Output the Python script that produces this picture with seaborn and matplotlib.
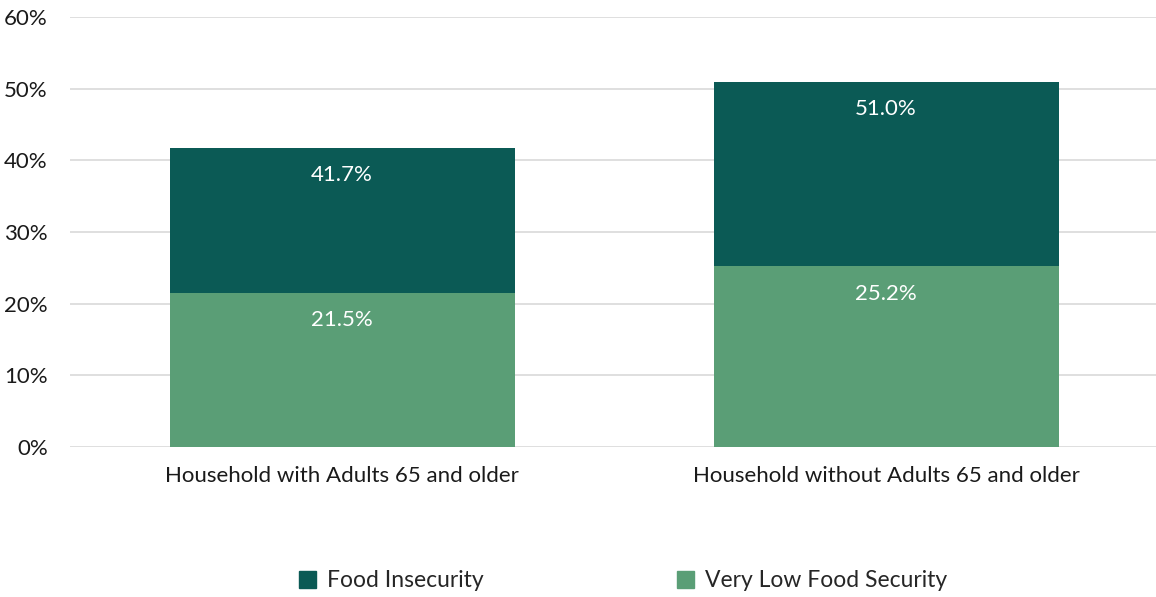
import pandas as pd
import matplotlib.pyplot as plt
import seaborn as sns
from matplotlib.patches import Patch

categories = ["Household with Adults 65 and older", "Household without Adults 65 and older"]
food_insecurity = [41.7, 51.0]
very_low_food_security = [21.5, 25.2]
series_names = ["Food Insecurity", "Very Low Food Security"]
series_colors = ["#0b5a55", "#5a9e76"]

sns.set_theme(style="whitegrid")
plt.rcParams["font.family"] = ["Lato", "DejaVu Sans"]

fig = plt.figure(figsize=(11.56, 5.97), dpi=100)
ax = fig.add_axes([0.0606, 0.2513, 0.9412, 0.7202])

df = pd.DataFrame({"category": categories, "fi": food_insecurity, "vlfs": very_low_food_security})

# overlapping bars: total food insecurity behind, very low food security in front
sns.barplot(data=df, x="category", y="fi", color=series_colors[0], width=0.634,
            saturation=1, linewidth=0, ax=ax, zorder=2)
sns.barplot(data=df, x="category", y="vlfs", color=series_colors[1], width=0.634,
            saturation=1, linewidth=0, ax=ax, zorder=3)

for i, (fi, vl) in enumerate(zip(food_insecurity, very_low_food_security)):
    ax.text(i, fi - 2.4, f"{fi:.1f}%", ha="center", va="top", color="white", fontsize=16, zorder=4)
    ax.text(i, vl - 2.4, f"{vl:.1f}%", ha="center", va="top", color="white", fontsize=16, zorder=4)

ax.set_ylim(0, 60)
ax.set_xlim(-0.5, 1.5)
ax.set_yticks(range(0, 61, 10))
ax.set_yticklabels([f"{t}%" for t in range(0, 61, 10)])
ax.set_xlabel("")
ax.set_ylabel("")
ax.grid(axis="x", visible=False)
ax.grid(axis="y", color="#d9d9d9", linewidth=1.2)
ax.set_axisbelow(True)
for s in ax.spines.values():
    s.set_visible(False)
ax.tick_params(axis="both", labelsize=16, colors="#1a1a1a", length=0)
ax.tick_params(axis="x", pad=14)
ax.tick_params(axis="y", pad=16)

handles = [Patch(color=c, label=n) for c, n in zip(series_colors, series_names)]
fig.legend(handles=handles, loc="center", bbox_to_anchor=(0.539, 0.027), ncol=2, frameon=False,
           fontsize=16.5, handlelength=0.75, handleheight=0.75, handletextpad=0.5, columnspacing=8.4)

fig.savefig("out.png", dpi=100, facecolor="white")
